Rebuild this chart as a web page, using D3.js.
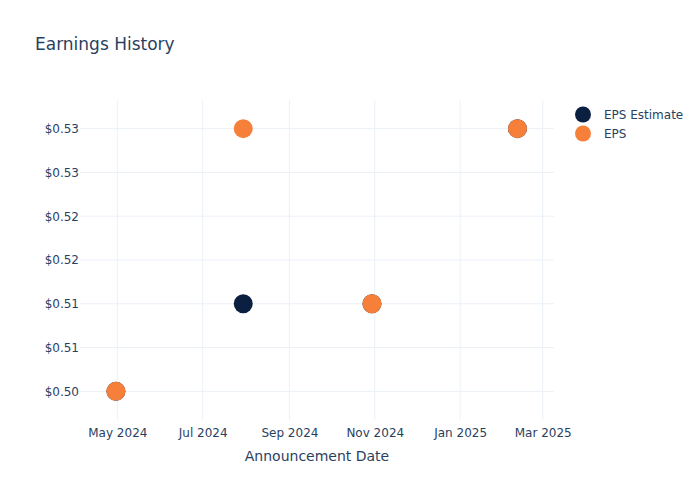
<!DOCTYPE html>
<html>
<head>
<meta charset="utf-8">
<script src="https://cdn.jsdelivr.net/npm/d3@7"></script>
<style>
  body { margin: 0; background: #fff; }
  svg text { font-family: "DejaVu Sans", sans-serif; fill: #2a3f5f; }
</style>
</head>
<body>
<div id="chart"></div>
<script>
// announcement dates and values
var dates = ["2024-04-30", "2024-07-30", "2024-10-30", "2025-02-11"];
var epsEstimate = [0.50, 0.51, 0.51, 0.53];
var eps = [0.50, 0.53, 0.51, 0.53];

var yTicks = [0.50, 0.505, 0.51, 0.515, 0.52, 0.525, 0.53];
var yTickLabels = ["$0.50", "$0.51", "$0.51", "$0.52", "$0.52", "$0.53", "$0.53"];
var xTicks = ["2024-05-01", "2024-07-01", "2024-09-01", "2024-11-01", "2025-01-01", "2025-03-01"];
var xTickLabels = ["May 2024", "Jul 2024", "Sep 2024", "Nov 2024", "Jan 2025", "Mar 2025"];

var seriesNames = ["EPS Estimate", "EPS"];
var seriesColors = ["#0b1f41", "#f6803a"];

var width = 700, height = 500;
var plotLeft = 80, plotRight = 554, plotTop = 100, plotBottom = 420;

var parse = d3.utcParse("%Y-%m-%d");

var svg = d3.select("#chart").append("svg")
    .attr("width", width)
    .attr("height", height);

var xScale = d3.scaleUtc()
    .domain([Date.UTC(2024, 3, 4, 8), Date.UTC(2025, 2, 9, 2)])
    .range([plotLeft, plotRight]);

var yScale = d3.scaleLinear()
    .domain([0.49673, 0.53327])
    .range([plotBottom, plotTop]);

// grid lines
svg.append("g")
  .selectAll("line")
    .data(yTicks)
  .enter().append("line")
    .attr("x1", plotLeft)
    .attr("x2", plotRight)
    .attr("y1", function(d){ return yScale(d); })
    .attr("y2", function(d){ return yScale(d); })
    .style("stroke", "#ebf0f8")
    .style("stroke-width", 1);

svg.append("g")
  .selectAll("line")
    .data(xTicks)
  .enter().append("line")
    .attr("x1", function(d){ return xScale(parse(d)); })
    .attr("x2", function(d){ return xScale(parse(d)); })
    .attr("y1", plotTop)
    .attr("y2", plotBottom)
    .style("stroke", "#ebf0f8")
    .style("stroke-width", 1);

// y axis labels
var yAxis = d3.axisLeft(yScale)
    .tickValues(yTicks)
    .tickSize(0)
    .tickPadding(1)
    .tickFormat(function(d, i){ return yTickLabels[i]; });

var yG = svg.append("g")
    .attr("transform", "translate(" + plotLeft + ",0)")
    .call(yAxis);
yG.select(".domain").remove();
yG.selectAll("text").style("font-size", "12px").attr("fill", "#2a3f5f");

// x axis labels
var xAxis = d3.axisBottom(xScale)
    .tickValues(xTicks.map(parse))
    .tickSize(0)
    .tickPadding(8)
    .tickFormat(function(d, i){ return xTickLabels[i]; });

var xG = svg.append("g")
    .attr("transform", "translate(0," + plotBottom + ")")
    .call(xAxis);
xG.select(".domain").remove();
xG.selectAll("text").style("font-size", "12px").attr("fill", "#2a3f5f");

// markers, estimate drawn first so EPS sits on top
var allSeries = [epsEstimate, eps];
allSeries.forEach(function(values, s){
    svg.append("g")
      .selectAll("circle")
        .data(values)
      .enter().append("circle")
        .attr("cx", function(d, i){ return xScale(parse(dates[i])); })
        .attr("cy", function(d){ return yScale(d); })
        .attr("r", 9.5)
        .style("fill", seriesColors[s]);
});

// title
svg.append("text")
    .attr("x", 35)
    .attr("y", 50)
    .style("font-size", "17px")
    .text("Earnings History");

// x axis title
svg.append("text")
    .attr("x", (plotLeft + plotRight) / 2)
    .attr("y", 461)
    .attr("text-anchor", "middle")
    .style("font-size", "14px")
    .text("Announcement Date");

// legend
var legend = svg.append("g")
  .selectAll("g")
    .data(seriesNames)
  .enter().append("g")
    .attr("transform", function(d, i){ return "translate(583," + (114.5 + i * 19) + ")"; });

legend.append("circle")
    .attr("r", 8)
    .style("fill", function(d, i){ return seriesColors[i]; });

legend.append("text")
    .attr("x", 21)
    .attr("y", 4.5)
    .style("font-size", "12px")
    .text(function(d){ return d; });
</script>
</body>
</html>
